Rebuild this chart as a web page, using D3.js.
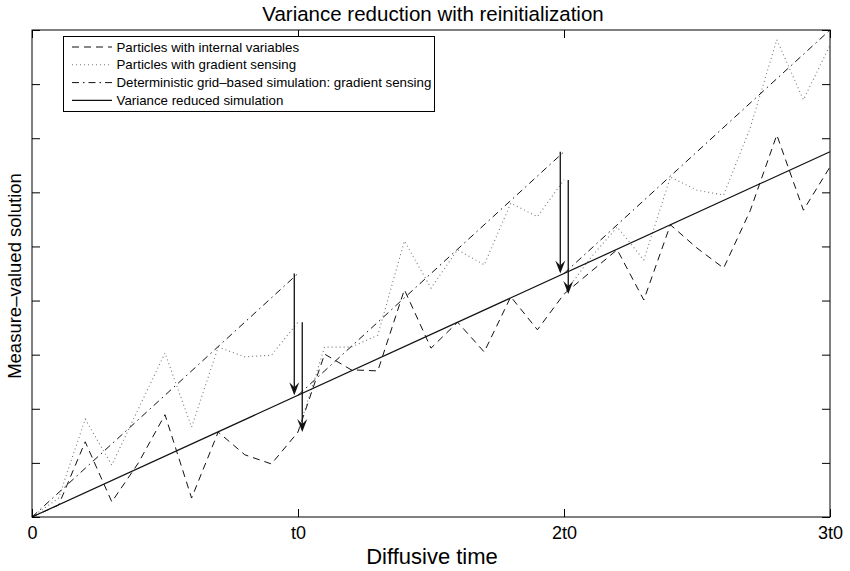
<!DOCTYPE html>
<html>
<head>
<meta charset="utf-8">
<script src="https://cdn.jsdelivr.net/npm/d3@7/dist/d3.min.js"></script>
<style>
  html, body { margin: 0; padding: 0; background: #fff; }
  svg { display: block; font-family: "Liberation Sans", Arial, Helvetica, sans-serif; }
</style>
</head>
<body>
<svg id="chart" width="850" height="571"></svg>
<script>
// Time grid in units of t0 (one sample every 0.1 t0)
const times = [0, 0.1, 0.2, 0.3, 0.4, 0.5, 0.6, 0.7, 0.8, 0.9, 1.0,
               1.1, 1.2, 1.3, 1.4, 1.5, 1.6, 1.7, 1.8, 1.9, 2.0,
               2.1, 2.2, 2.3, 2.4, 2.5, 2.6, 2.7, 2.8, 2.9, 3.0];

// Particles with internal variables (continuous over the whole run)
const internalVars = [0, 0.22, 1.39, 0.28, 1.00, 1.89, 0.35, 1.57, 1.15, 0.98, 1.57,
                      3.01, 2.72, 2.70, 4.20, 3.12, 3.60, 3.05, 4.07, 3.46, 4.12,
                      4.53, 4.94, 4.01, 5.40, 4.97, 4.60, 5.66, 7.06, 5.67, 6.47];

// Particles with gradient sensing, one run per reinitialization interval
const gradientTimes1 = [0, 0.1, 0.2, 0.3, 0.4, 0.5, 0.6, 0.7, 0.8, 0.9, 1.0];
const gradientTimes2 = [1.0, 1.1, 1.2, 1.3, 1.4, 1.5, 1.6, 1.7, 1.8, 1.9, 2.0];
const gradientTimes3 = [2.0, 2.1, 2.2, 2.3, 2.4, 2.5, 2.6, 2.7, 2.8, 2.9, 3.0];
const gradient1 = [0, 0.35, 1.81, 0.96, 2.00, 3.03, 1.66, 3.14, 2.96, 2.99, 3.60];
const gradient2 = [1.57, 3.14, 3.14, 3.36, 5.10, 4.23, 4.94, 4.66, 5.80, 5.55, 6.23];
const gradient3 = [4.12, 4.79, 5.36, 4.75, 6.28, 6.04, 5.95, 7.19, 8.82, 7.71, 8.72];

// Deterministic grid-based simulation, one run per interval (start, end)
const detTimes = [[0, 1], [1, 2], [2, 3]];
const detValues = [[0, 4.5], [2.25, 6.75], [4.5, 9]];

// Variance reduced simulation
const reducedTimes = [0, 3];
const reducedValues = [0, 6.75];

// Reinitialization instants
const resetTimes = [1, 2];

// Axis ticks
const xTicks = [0, 1, 2, 3];
const xTickLabels = ["0", "t0", "2t0", "3t0"];
const yTicks = [0, 1, 2, 3, 4, 5, 6, 7, 8, 9];

const legendLabels = [
  "Particles with internal variables",
  "Particles with gradient sensing",
  "Deterministic grid\u2013based simulation: gradient sensing",
  "Variance reduced simulation"
];

const svg = d3.select("#chart");
const plotLeft = 32, plotRight = 830, plotTop = 30, plotBottom = 517;

const x = d3.scaleLinear().domain([0, 3]).range([plotLeft, plotRight]);
const y = d3.scaleLinear().domain([0, 9]).range([plotBottom, plotTop]);

const styles = {
  internal: { stroke: "#111", dash: "7,5", width: 1 },
  gradient: { stroke: "#777", dash: "1,3", width: 1.1 },
  det: { stroke: "#111", dash: "7,4,1.5,4", width: 1 },
  reduced: { stroke: "#111", dash: null, width: 1.2 }
};

const line = d3.line().x(d => x(d[0])).y(d => y(d[1]));

function drawSeries(ts, vs, st) {
  svg.append("path")
    .datum(ts.map((t, i) => [t, vs[i]]))
    .attr("d", line)
    .attr("fill", "none")
    .attr("stroke", st.stroke)
    .attr("stroke-width", st.width)
    .attr("stroke-dasharray", st.dash);
}

// Series
drawSeries(times, internalVars, styles.internal);
drawSeries(gradientTimes1, gradient1, styles.gradient);
drawSeries(gradientTimes2, gradient2, styles.gradient);
drawSeries(gradientTimes3, gradient3, styles.gradient);
detTimes.forEach((ts, i) => drawSeries(ts, detValues[i], styles.det));
drawSeries(reducedTimes, reducedValues, styles.reduced);

// Reinitialization arrows: deterministic -> variance reduced,
// gradient sensing -> internal variables
const gradientEnds = [gradient1[gradient1.length - 1], gradient2[gradient2.length - 1]];
const reducedAt = t => reducedValues[0] + (reducedValues[1] - reducedValues[0]) * t / 3;
function arrow(t, from, to) {
  const ax = x(t), y0 = y(from), y1 = y(to);
  svg.append("line")
    .attr("x1", ax).attr("x2", ax)
    .attr("y1", y0).attr("y2", y1 - 8)
    .attr("stroke", "#111").attr("stroke-width", 1.3);
  svg.append("path")
    .attr("d", `M${ax},${y1} L${ax - 5},${y1 - 13} L${ax},${y1 - 8} L${ax + 5},${y1 - 13} Z`)
    .attr("fill", "#111");
}
resetTimes.forEach((t, i) => {
  const k = times.indexOf(t);
  arrow(t - 0.014, detValues[i][1], reducedAt(t));
  arrow(t + 0.016, gradientEnds[i], internalVars[k]);
});

// Axes box with inward ticks on all four sides
const tickLen = 8;
svg.append("rect")
  .attr("x", plotLeft).attr("y", plotTop)
  .attr("width", plotRight - plotLeft).attr("height", plotBottom - plotTop)
  .attr("fill", "none").attr("stroke", "#000").attr("stroke-width", 1);

const xAxisBottom = d3.axisBottom(x).tickValues(xTicks)
  .tickSize(-tickLen).tickFormat((d, i) => xTickLabels[i]).tickPadding(9);
const gx = svg.append("g").attr("transform", `translate(0,${plotBottom})`).call(xAxisBottom);
gx.select(".domain").remove();
gx.selectAll("line").attr("stroke", "#000");
gx.selectAll("text").attr("font-size", 18).attr("fill", "#000")
  .attr("font-family", "'Liberation Sans', Arial, sans-serif");

const gxTop = svg.append("g").attr("transform", `translate(0,${plotTop})`)
  .call(d3.axisTop(x).tickValues(xTicks).tickSize(-tickLen).tickFormat(""));
gxTop.select(".domain").remove();

const gyL = svg.append("g").attr("transform", `translate(${plotLeft},0)`)
  .call(d3.axisLeft(y).tickValues(yTicks).tickSize(-tickLen).tickFormat(""));
gyL.select(".domain").remove();
const gyR = svg.append("g").attr("transform", `translate(${plotRight},0)`)
  .call(d3.axisRight(y).tickValues(yTicks).tickSize(-tickLen).tickFormat(""));
gyR.select(".domain").remove();

// Titles
svg.append("text").attr("x", 433).attr("y", 21)
  .attr("text-anchor", "middle").attr("font-size", 20.5)
  .text("Variance reduction with reinitialization");
svg.append("text").attr("x", 432).attr("y", 564)
  .attr("text-anchor", "middle").attr("font-size", 22)
  .text("Diffusive time");
svg.append("text")
  .attr("transform", "translate(21,276) rotate(-90)")
  .attr("text-anchor", "middle").attr("font-size", 18.5)
  .text("Measure\u2013valued solution");

// Legend
const legend = svg.append("g");
legend.append("rect")
  .attr("x", 63.5).attr("y", 36.5).attr("width", 371).attr("height", 75)
  .attr("fill", "#fff").attr("stroke", "#000").attr("stroke-width", 1);
const legendStyles = [styles.internal, styles.gradient, styles.det, styles.reduced];
legendLabels.forEach((lab, i) => {
  const by = 51.5 + i * 17.8;
  const st = legendStyles[i];
  legend.append("line")
    .attr("x1", 72).attr("x2", 112)
    .attr("y1", by - 4.5).attr("y2", by - 4.5)
    .attr("stroke", st.stroke).attr("stroke-width", st.width)
    .attr("stroke-dasharray", st.dash);
  legend.append("text")
    .attr("x", 116.5).attr("y", by)
    .attr("font-size", 13.3)
    .text(lab);
});
</script>
</body>
</html>
